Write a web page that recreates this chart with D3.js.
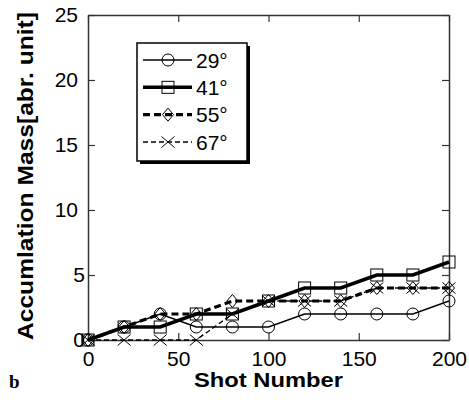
<!DOCTYPE html>
<html>
<head>
<meta charset="utf-8">
<script src="https://cdn.jsdelivr.net/npm/d3@7"></script>
<style>
  body { margin: 0; background: #fff; }
  text { font-family: "Liberation Sans", Arial, sans-serif; }
</style>
</head>
<body>
<script>

// data
const shots = [0, 20, 40, 60, 80, 100, 120, 140, 160, 180, 200];
const deg29 = [0, 1, 2, 1, 1, 1, 2, 2, 2, 2, 3];
const deg41 = [0, 1, 1, 2, 2, 3, 4, 4, 5, 5, 6];
const deg55 = [0, 1, 2, 2, 3, 3, 3, 3, 4, 4, 4];
const deg67 = [0, 0, 0, 0, 2, 3, 3, 3, 4, 4, 4];
const seriesNames = ["29°", "41°", "55°", "67°"];
const xTicks = [0, 50, 100, 150, 200];
const yTicks = [0, 5, 10, 15, 20, 25];

const w = 469;
const h = 400;
const margin = {top: 15, right: 20, bottom: 60, left: 88};

const xScale = d3.scaleLinear()
    .domain([0, 200])
    .range([margin.left, w - margin.right]);

const yScale = d3.scaleLinear()
    .domain([0, 25])
    .range([h - margin.bottom, margin.top]);

const svg = d3.select("body")
  .append("svg")
    .attr("width", w)
    .attr("height", h);

// line styles per series
const styles = [
  {values: deg29, width: 1.5, dash: null, marker: "circle"},
  {values: deg41, width: 3.5, dash: null, marker: "square"},
  {values: deg55, width: 3.2, dash: "7,4", marker: "diamond"},
  {values: deg67, width: 1.3, dash: "5,3", marker: "cross"}
];

function drawMarker(g, type, cx, cy) {
  if (type === "circle") {
    g.append("circle").attr("cx", cx).attr("cy", cy).attr("r", 6)
      .attr("fill", "none").attr("stroke", "#000").attr("stroke-width", 1);
  } else if (type === "square") {
    g.append("rect").attr("x", cx - 6).attr("y", cy - 6)
      .attr("width", 12).attr("height", 12)
      .attr("fill", "none").attr("stroke", "#000").attr("stroke-width", 1);
  } else if (type === "diamond") {
    g.append("path")
      .attr("d", `M${cx},${cy - 6.5}L${cx + 5.5},${cy}L${cx},${cy + 6.5}L${cx - 5.5},${cy}Z`)
      .attr("fill", "none").attr("stroke", "#000").attr("stroke-width", 1);
  } else {
    g.append("path")
      .attr("d", `M${cx - 6.5},${cy - 5.5}L${cx + 6.5},${cy + 5.5}M${cx - 6.5},${cy + 5.5}L${cx + 6.5},${cy - 5.5}`)
      .attr("fill", "none").attr("stroke", "#000").attr("stroke-width", 1);
  }
}

// axes: inward ticks on all four sides
const axisColor = "#333";

svg.append("g")
    .attr("class", "xAxis")
    .attr("transform", `translate(0, ${h - margin.bottom})`)
    .call(d3.axisBottom(xScale).tickValues(xTicks).tickSizeInner(-7).tickSizeOuter(0).tickPadding(11));

svg.append("g")
    .attr("class", "xTop")
    .attr("transform", `translate(0, ${margin.top})`)
    .call(d3.axisTop(xScale).tickValues(xTicks).tickSizeInner(-7).tickSizeOuter(0).tickFormat(""));

svg.append("g")
    .attr("class", "yAxis")
    .attr("transform", `translate(${margin.left}, 0)`)
    .call(d3.axisLeft(yScale).tickValues(yTicks).tickSizeInner(-7).tickSizeOuter(0).tickPadding(4));

svg.append("g")
    .attr("class", "yRight")
    .attr("transform", `translate(${w - margin.right}, 0)`)
    .call(d3.axisRight(yScale).tickValues(yTicks).tickSizeInner(-7).tickSizeOuter(0).tickFormat(""));

svg.selectAll(".domain").attr("stroke", axisColor).attr("stroke-width", 1.5);
svg.selectAll(".tick line").attr("stroke", axisColor).attr("stroke-width", 1.2);
svg.selectAll(".tick text")
    .attr("fill", "#000")
    .style("font-size", "21px")
    .style("font-family", "'Liberation Sans', Arial, sans-serif");

// two-digit y labels sit further from the axis than single digits
svg.selectAll(".yAxis .tick text")
    .attr("x", d => String(d).length > 1 ? -10 : -3);

// series
const line = d3.line()
    .x((d, i) => xScale(shots[i]))
    .y(d => yScale(d));

const plot = svg.append("g").attr("id", "plot");

styles.forEach(s => {
  plot.append("path")
      .datum(s.values)
      .attr("d", line)
      .attr("fill", "none")
      .attr("stroke", "#000")
      .attr("stroke-width", s.width)
      .attr("stroke-dasharray", s.dash);
});

styles.forEach(s => {
  const g = plot.append("g");
  s.values.forEach((v, i) => drawMarker(g, s.marker, xScale(shots[i]), yScale(v)));
});

// legend
const lx = 137, ly = 43, lw = 110, lh = 118;
svg.append("rect")
    .attr("x", lx + 3).attr("y", ly + 3)
    .attr("width", lw).attr("height", lh)
    .attr("fill", "#000");
svg.append("rect")
    .attr("x", lx).attr("y", ly)
    .attr("width", lw).attr("height", lh)
    .attr("fill", "#fff")
    .attr("stroke", "#000")
    .attr("stroke-width", 1.5);

const rowY = d3.scalePoint()
    .domain(seriesNames)
    .range([60, 142]);

seriesNames.forEach((name, i) => {
  const s = styles[i];
  const y = rowY(name);
  const g = svg.append("g");
  g.append("line")
      .attr("x1", 143).attr("x2", 192)
      .attr("y1", y).attr("y2", y)
      .attr("stroke", "#000")
      .attr("stroke-width", s.width)
      .attr("stroke-dasharray", s.dash);
  drawMarker(g, s.marker, 168, y);
  g.append("text")
      .attr("x", 196).attr("y", y)
      .attr("dy", "0.36em")
      .style("font-size", "21px")
      .text(name);
});

// axis titles (the scan is slightly stretched sideways)
svg.append("text")
    .attr("x", (margin.left + w - margin.right) / 2)
    .attr("y", 387)
    .attr("text-anchor", "middle")
    .attr("textLength", 149)
    .attr("lengthAdjust", "spacingAndGlyphs")
    .style("font-size", "21px")
    .style("font-weight", "bold")
    .text("Shot Number");

svg.append("text")
    .attr("transform", `translate(33, 176) rotate(-90)`)
    .attr("text-anchor", "middle")
    .attr("textLength", 328)
    .attr("lengthAdjust", "spacingAndGlyphs")
    .style("font-size", "22px")
    .style("font-weight", "bold")
    .text("Accumlation Mass[abr. unit]");

svg.append("text")
    .attr("x", 9)
    .attr("y", 388)
    .style("font-family", "'Liberation Serif', 'Times New Roman', serif")
    .style("font-size", "19px")
    .style("font-weight", "bold")
    .text("b");

</script>
</body>
</html>
